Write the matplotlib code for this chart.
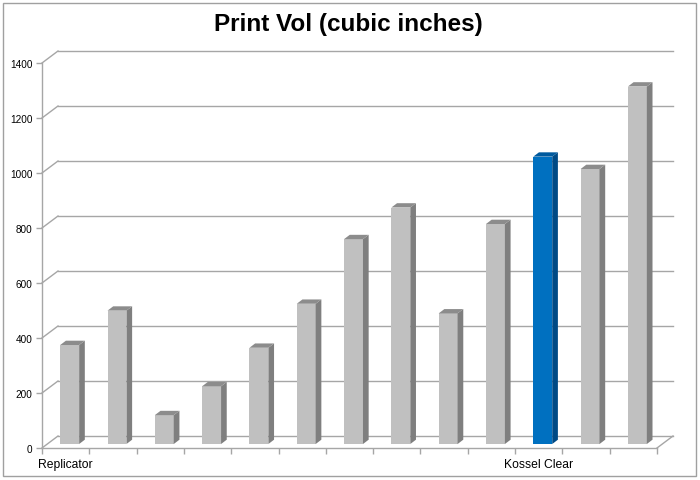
import matplotlib.pyplot as plt
from matplotlib.patches import Polygon, Rectangle

plt.rcParams['font.family'] = ['Liberation Sans', 'DejaVu Sans']

# data
printers = ['Replicator', '', '', '', '', '', '', '', '', '',
            'Kossel Clear', '', '']
volumes = [360, 485, 105, 210, 350, 510, 745, 860, 475, 800, 1045, 1000, 1300]
highlight = 'Kossel Clear'

yticks = list(range(0, 1401, 200))

# pseudo-3d look (data units)
wall_dx, wall_dy = 0.338, 43.6      # depth of the box
bar_dx, bar_dy = 0.12, 15.7         # depth of one bar
off_dx, off_dy = 0.085, 14.5        # where the bar front sits
bar_w = 0.40

grid_col = '#a6a6a6'
face_grey, side_grey, top_grey = '#c0c0c0', '#7f7f7f', '#8c8c8c'
face_blue, side_blue, top_blue = '#0070c0', '#004a85', '#005a9e'

fig = plt.figure(figsize=(7.0, 4.81), dpi=100)
ax = fig.add_axes([42 / 700, 32 / 481, 615 / 700, 385 / 481])

n = len(volumes)
x0, x1 = -0.5, n - 0.5
ax.set_xlim(x0, x1)
ax.set_ylim(0, 1400)
for s in ax.spines.values():
    s.set_visible(False)

# walls
for v in yticks:
    ax.plot([x0 + wall_dx, x1 + wall_dx], [v + wall_dy, v + wall_dy],
            color=grid_col, lw=1, clip_on=False, zorder=1)
    ax.plot([x0, x0 + wall_dx], [v, v + wall_dy],
            color=grid_col, lw=1, clip_on=False, zorder=1)
ax.plot([x0, x0], [0, 1400], color=grid_col, lw=1, clip_on=False, zorder=1)
ax.plot([x0, x1], [0, 0], color=grid_col, lw=1, clip_on=False, zorder=1)
ax.plot([x1, x1 + wall_dx], [0, wall_dy], color=grid_col, lw=1,
        clip_on=False, zorder=1)

# bars
for i, (name, v) in enumerate(zip(printers, volumes)):
    if name == highlight:
        fc, sc, tc = face_blue, side_blue, top_blue
    else:
        fc, sc, tc = face_grey, side_grey, top_grey
    xl = i - bar_w / 2 + off_dx
    xr = xl + bar_w
    b = off_dy
    t = b + v
    ax.bar(xl, v, width=bar_w, bottom=b, align='edge', color=fc,
           lw=0, zorder=3, clip_on=False)
    ax.add_patch(Polygon([(xr, b), (xr, t), (xr + bar_dx, t + bar_dy),
                          (xr + bar_dx, b + bar_dy)], closed=True,
                         fc=sc, ec='none', zorder=3, clip_on=False))
    ax.add_patch(Polygon([(xl, t), (xr, t), (xr + bar_dx, t + bar_dy),
                          (xl + bar_dx, t + bar_dy)], closed=True,
                         fc=tc, ec='none', zorder=3, clip_on=False))

# ticks
ax.set_yticks(yticks)
ax.set_yticklabels([str(v) for v in yticks], fontsize=7.2)
ax.tick_params(axis='y', length=4, width=1, color=grid_col, pad=3)
ax.set_xticks([i - 0.5 for i in range(n + 1)])
ax.set_xticklabels([])
ax.tick_params(axis='x', which='major', length=4, width=1, color=grid_col)
ax.set_xticks(range(n), minor=True)
ax.set_xticklabels(printers, minor=True, fontsize=8.7)
ax.tick_params(axis='x', which='minor', length=0, pad=7)

fig.text(0.498, 1 - 25 / 481, 'Print Vol (cubic inches)', ha='center',
         va='center', fontsize=17.5, fontweight='bold')

fig.patches.append(Rectangle((3 / 700, 4 / 481), 693 / 700, 473 / 481,
                             transform=fig.transFigure, fill=False,
                             ec='#a0a0a0', lw=1))

fig.savefig('out.png', dpi=100)
